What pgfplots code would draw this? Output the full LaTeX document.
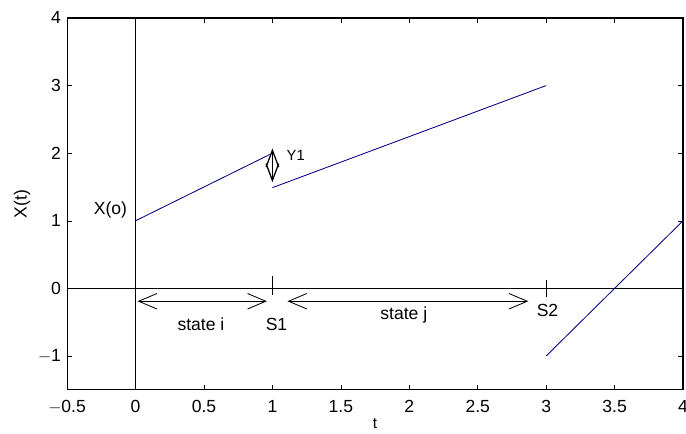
\documentclass[border=0pt]{standalone}
\usepackage{fontspec}
\setmainfont{Liberation Sans}
\usepackage{pgfplots}
\pgfplotsset{compat=1.18}
\usetikzlibrary{arrows.meta,calc}
\definecolor{navy}{rgb}{0.0,0.0,0.5}

\begin{document}
\fontsize{12.5}{14.5}\selectfont
\begin{tikzpicture}
\begin{axis}[
    scale only axis,
    width=15.42cm, height=9.31cm,
    xmin=-0.5, xmax=4,
    ymin=-1.5, ymax=4,
    xtick={-0.5,0,...,4},
    ytick={-1,0,...,4},
    xticklabels={$-$0.5,0,0.5,1,1.5,2,2.5,3,3.5,4},
    yticklabels={$-$1,0,1,2,3,4},
    tick align=inside,
    major tick length=0.12cm,
    axis line style={line width=0.8pt},
    tick style={black, line width=0.4pt},
    tick label style={font=\fontsize{12.5}{14.5}\selectfont},
    xticklabel style={yshift=-0.12cm},
    xlabel={t}, ylabel={X(t)},
    xlabel style={font=\fontsize{11}{13}\selectfont, anchor=center, at={(axis description cs:0.5,-0.09)}},
    ylabel style={font=\fontsize{12.5}{14.5}\selectfont, anchor=center, at={(axis description cs:-0.073,0.5)}},
    /pgf/number format/assume math mode=true,
    clip=false,
]
% reference lines
\addplot[black, line width=0.5pt] coordinates {(-0.5,0) (4,0)};
\addplot[black, line width=0.5pt] coordinates {(0,-1.5) (0,4)};
% segments
\addplot[navy, line width=0.6pt] coordinates {(0,1) (1,2)};
\addplot[navy, line width=0.6pt] coordinates {(1,1.49) (3,3)};
\addplot[navy, line width=0.6pt] coordinates {(3,-1) (4,1)};
% small marks at S1 and S2
\addplot[black, line width=0.4pt] coordinates {(1,-0.10) (1,0.18)};
\addplot[black, line width=0.4pt] coordinates {(3,-0.13) (3,0.12)};
% state arrows
\addplot[black, line width=0.6pt, {Straight Barb[length=13pt,width=11pt]}-{Straight Barb[length=13pt,width=11pt]}] coordinates {(0.015,-0.19) (0.96,-0.19)};
\addplot[black, line width=0.6pt, {Straight Barb[length=13pt,width=11pt]}-{Straight Barb[length=13pt,width=11pt]}] coordinates {(1.11,-0.19) (2.87,-0.19)};
% jump arrow Y1
\addplot[black, line width=0.9pt, {Straight Barb[length=12pt,width=9pt]}-{Straight Barb[length=12pt,width=9pt]}] coordinates {(1,1.57) (1,2.07)};
\node[font=\fontsize{10.5}{12}\selectfont, anchor=west] at (axis cs:1.06,1.97) {Y1};
\node[anchor=east, inner sep=0pt] at (axis cs:-0.06,1.16) {X(o)};
\node at (axis cs:0.478,-0.53) {state i};
\node at (axis cs:1.03,-0.53) {S1};
\node at (axis cs:1.96,-0.40) {state j};
\node at (axis cs:3.01,-0.33) {S2};
\end{axis}
\pgfresetboundingbox
\path ($(current axis.south west)+(-1.68cm,-1.10cm)$) rectangle ($(current axis.north east)+(0.075cm,0.45cm)$);
\end{tikzpicture}
\end{document}
